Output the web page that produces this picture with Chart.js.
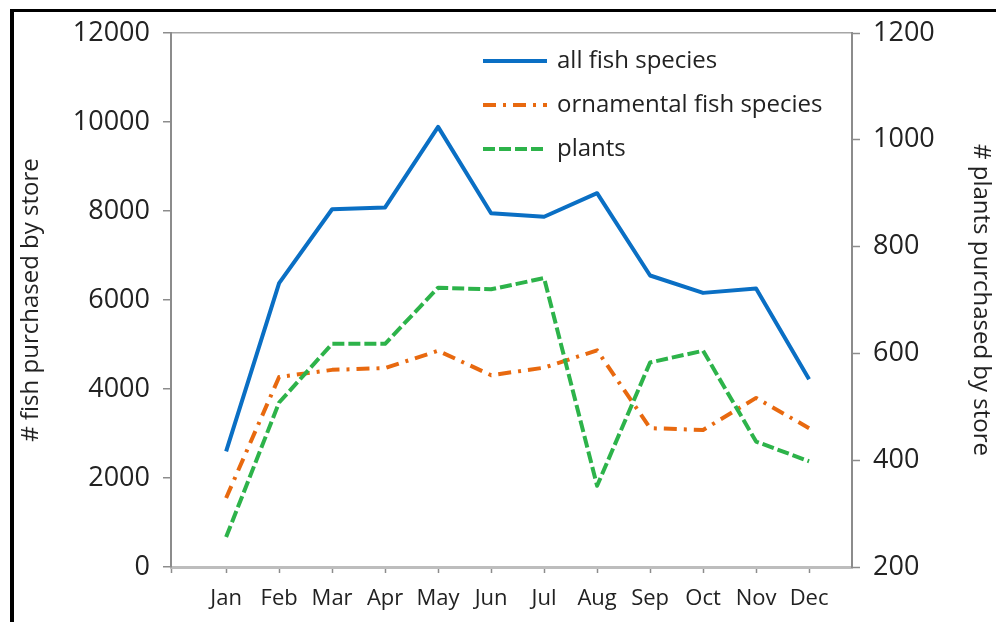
<!DOCTYPE html>
<html>
<head>
  <meta charset="utf-8">
  <title>Fish and plants purchased by store</title>
  <script src="https://cdn.jsdelivr.net/npm/chart.js@4.4.1/dist/chart.umd.min.js"></script>
  <style type="text/css">
    html, body {
      margin: 0;
      padding: 0;
      background: #fff;
    }
    #wrap {
      position: relative;
      width: 996px;
      height: 622px;
      overflow: hidden;
    }
    #frame {
      position: absolute;
      left: 10px;
      top: 9px;
      width: 1000px;
      height: 700px;
      border-left: 4px solid #000;
      border-top: 3px solid #000;
      pointer-events: none;
    }
    #chart {
      position: absolute;
      left: 0;
      top: 0;
    }
  </style>
</head>
<body>
  <div id="wrap">
    <canvas id="chart" width="996" height="622"></canvas>
    <div id="frame"></div>
  </div>

  <script>
    // data
    var MONTHS = ['Jan', 'Feb', 'Mar', 'Apr', 'May', 'Jun', 'Jul', 'Aug', 'Sep', 'Oct', 'Nov', 'Dec'];
    var ALL_FISH = [2600, 6380, 8040, 8080, 9890, 7950, 7870, 8400, 6550, 6160, 6260, 4220];
    var ORNAMENTAL = [1550, 4270, 4430, 4470, 4860, 4310, 4480, 4870, 3120, 3080, 3800, 3120];
    var PLANTS = [256, 508, 618, 618, 723, 720, 741, 352, 583, 605, 435, 398];

    var FISH_TICKS = [0, 2000, 4000, 6000, 8000, 10000, 12000];
    var PLANT_TICKS = [200, 400, 600, 800, 1000, 1200];

    var FONT = '"Open Sans"';
    var TEXT = '#222';
    var AXIS = '#8c8c8c';

    // x runs a little past the first and last month, like the original
    var X_MIN = -1.04, X_MAX = 11.81;

    function points(values) {
      return values.map(function(v, i) { return {x: i, y: v}; });
    }

    // legend drawn inside the plot, top right
    var innerLegend = {
      id: 'innerLegend',
      afterDraw: function(chart) {
        var ctx = chart.ctx;
        var x0 = 483, len = 64, y = 61, step = 44;
        ctx.save();
        ctx.font = '24px ' + FONT;
        ctx.textBaseline = 'middle';
        ctx.fillStyle = TEXT;
        chart.data.datasets.forEach(function(ds) {
          ctx.beginPath();
          ctx.strokeStyle = ds.borderColor;
          ctx.lineWidth = ds.borderWidth;
          ctx.setLineDash(ds.borderDash || []);
          ctx.moveTo(x0, y);
          ctx.lineTo(x0 + len, y);
          ctx.stroke();
          ctx.setLineDash([]);
          ctx.fillText(ds.label, x0 + len + 10, y);
          y += step;
        });
        ctx.restore();
      }
    };

    function build() {
      var ctx = document.getElementById('chart').getContext('2d');
      new Chart(ctx, {
        type: 'line',
        data: {
          datasets: [
            {
              label: 'all fish species',
              data: points(ALL_FISH),
              yAxisID: 'y',
              borderColor: '#0a6fc4',
              borderWidth: 4,
              order: 3
            },
            {
              label: 'ornamental fish species',
              data: points(ORNAMENTAL),
              yAxisID: 'y',
              borderColor: '#e8690f',
              borderWidth: 4,
              borderDash: [13, 7, 3, 7],
              order: 2
            },
            {
              label: 'plants',
              data: points(PLANTS),
              yAxisID: 'y2',
              borderColor: '#2db34a',
              borderWidth: 4,
              borderDash: [12, 4],
              order: 1
            }
          ]
        },
        options: {
          responsive: false,
          animation: false,
          events: [],
          layout: {padding: {top: 33, left: 0, right: 0, bottom: 0}},
          elements: {
            point: {radius: 0},
            line: {tension: 0, fill: false, borderJoinStyle: 'round', borderCapStyle: 'butt'}
          },
          plugins: {
            legend: {display: false},
            tooltip: {enabled: false}
          },
          scales: {
            x: {
              type: 'linear',
              position: 'bottom',
              min: X_MIN,
              max: X_MAX,
              afterFit: function(s) { s.height = 55; },
              afterBuildTicks: function(s) {
                s.ticks = [{value: X_MIN}].concat(MONTHS.map(function(m, i) { return {value: i}; }));
              },
              ticks: {
                autoSkip: false,
                maxRotation: 0,
                padding: 13,
                color: TEXT,
                font: {family: FONT, size: 22},
                callback: function(v) { return MONTHS[v] !== undefined && v === Math.round(v) ? MONTHS[v] : ''; }
              },
              grid: {drawOnChartArea: false, tickLength: 6, tickColor: AXIS, tickWidth: 1.5},
              border: {color: '#bdbdbd', width: 3}
            },
            y: {
              position: 'left',
              min: 0,
              max: 12000,
              afterFit: function(s) { s.width = 171; },
              afterBuildTicks: function(s) {
                s.ticks = FISH_TICKS.map(function(v) { return {value: v}; });
              },
              ticks: {
                padding: 13,
                color: TEXT,
                font: {family: FONT, size: 27},
                callback: function(v) { return String(v); }
              },
              grid: {
                tickLength: 8,
                tickColor: AXIS,
                tickWidth: 1.5,
                lineWidth: 1.5,
                color: function(c) { return c.tick && c.tick.value === 12000 ? '#a6a6a6' : 'rgba(0,0,0,0)'; }
              },
              border: {color: AXIS, width: 2},
              title: {
                display: true,
                text: '# fish purchased by store',
                color: TEXT,
                font: {family: FONT, size: 24},
                padding: {top: 17, bottom: 0}
              }
            },
            y2: {
              position: 'right',
              min: 200,
              max: 1200,
              afterFit: function(s) { s.width = 144; },
              afterBuildTicks: function(s) {
                s.ticks = PLANT_TICKS.map(function(v) { return {value: v}; });
              },
              ticks: {
                padding: 13,
                color: TEXT,
                font: {family: FONT, size: 27},
                callback: function(v) { return String(v); }
              },
              grid: {drawOnChartArea: false, tickLength: 8, tickColor: AXIS, tickWidth: 1.5},
              border: {color: AXIS, width: 2},
              title: {
                display: true,
                text: '# plants purchased by store',
                color: TEXT,
                font: {family: FONT, size: 24},
                padding: {top: 1, bottom: 0}
              }
            }
          }
        },
        plugins: [innerLegend]
      });
    }

    if (document.fonts && document.fonts.load) {
      Promise.all([
        document.fonts.load('24px ' + FONT),
        document.fonts.load('27px ' + FONT)
      ]).then(build, build);
    } else {
      build();
    }
  </script>
</body>
</html>
